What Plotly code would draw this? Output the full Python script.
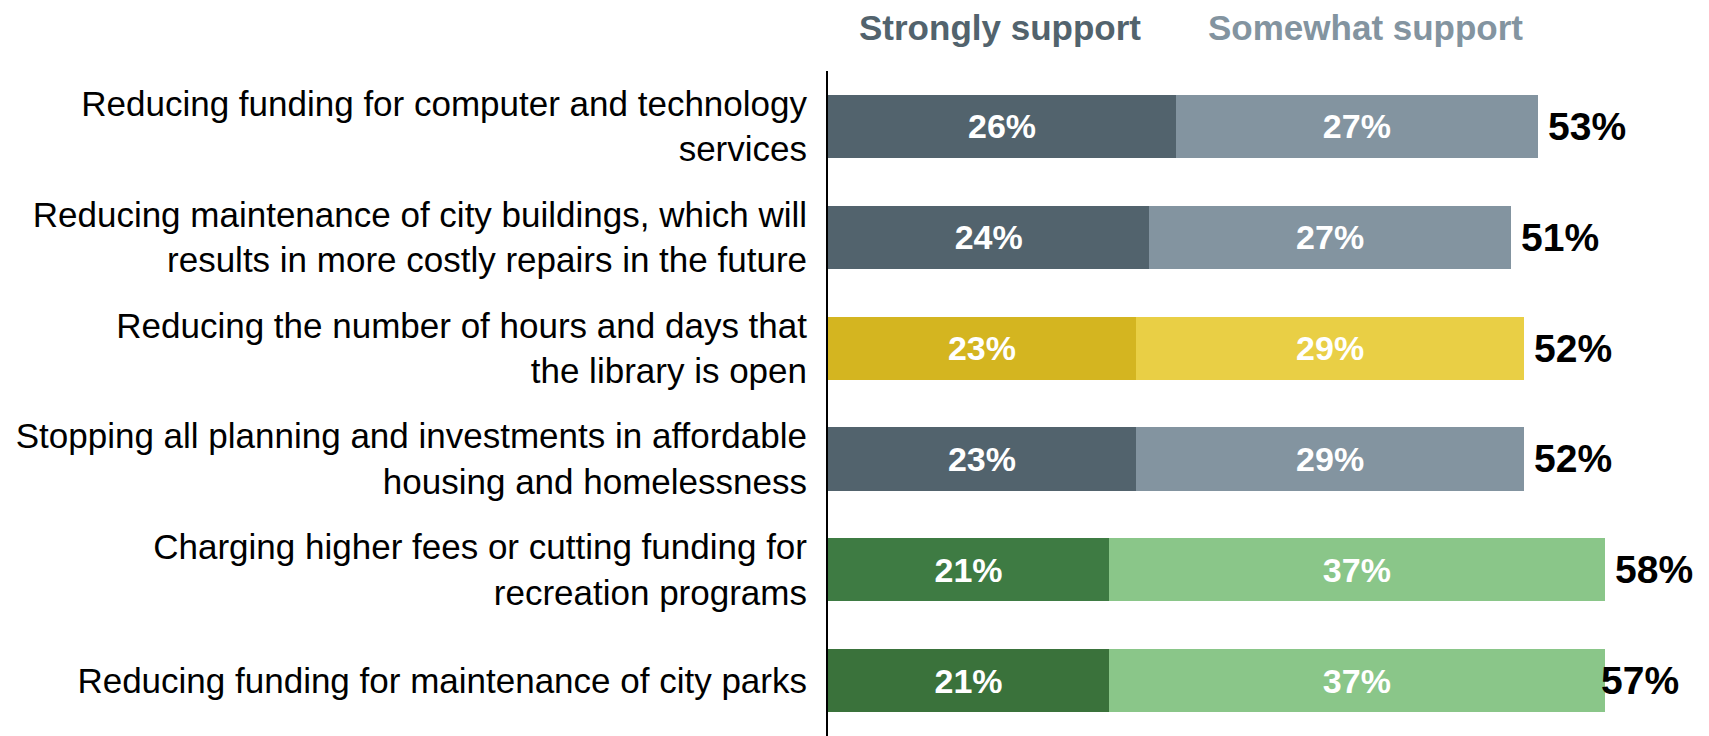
import plotly.graph_objects as go

categories = [
    "Reducing funding for computer and technology<br>services",
    "Reducing maintenance of city buildings, which will<br>results in more costly repairs in the future",
    "Reducing the number of hours and days that<br>the library is open",
    "Stopping all planning and investments in affordable<br>housing and homelessness",
    "Charging higher fees or cutting funding for<br>recreation programs",
    "Reducing funding for maintenance of city parks",
]
strongly = [26, 24, 23, 23, 21, 21]
somewhat = [27, 27, 29, 29, 37, 37]
totals = [53, 51, 52, 52, 58, 57]

dark_colors = ["#52636D", "#52636D", "#D4B520", "#52636D", "#3E7B43", "#3A723B"]
light_colors = ["#8394A0", "#8394A0", "#E9CF45", "#8394A0", "#8AC689", "#8AC689"]

FONT = "Liberation Sans, Arial, sans-serif"

fig = go.Figure()
fig.add_trace(go.Bar(
    y=categories, x=strongly, orientation="h", name="Strongly support",
    marker=dict(color=dark_colors, line=dict(width=0)),
    text=[f"{v}%" for v in strongly], textposition="inside", insidetextanchor="middle",
    textfont=dict(color="white", size=34, family=FONT, weight="bold"),
    width=0.57,
))
fig.add_trace(go.Bar(
    y=categories, x=somewhat, orientation="h", name="Somewhat support",
    marker=dict(color=light_colors, line=dict(width=0)),
    text=[f"{v}%" for v in somewhat], textposition="inside", insidetextanchor="middle",
    textfont=dict(color="white", size=34, family=FONT, weight="bold"),
    width=0.57,
))

for c, t in zip(categories, totals):
    fig.add_annotation(x=t, y=c, text=f"<b>{t}%</b>", showarrow=False,
                       xanchor="left", xshift=8,
                       font=dict(size=39, color="black", family=FONT))

fig.add_annotation(x=0.195, y=1.0, xref="paper", yref="paper", xanchor="center", yanchor="middle",
                   yshift=44, text="<b>Strongly support</b>", showarrow=False,
                   font=dict(size=35, color="#52636D", family=FONT))
fig.add_annotation(x=0.61, y=1.0, xref="paper", yref="paper", xanchor="center", yanchor="middle",
                   yshift=44, text="<b>Somewhat support</b>", showarrow=False,
                   font=dict(size=35, color="#8394A0", family=FONT))

fig.update_layout(
    barmode="stack",
    width=1701, height=728,
    margin=dict(l=820, r=0, t=63, b=0),
    plot_bgcolor="white", paper_bgcolor="white",
    showlegend=False,
    font=dict(family=FONT, color="black"),
    xaxis=dict(range=[0, 65.8], visible=False, fixedrange=True),
    yaxis=dict(autorange=False, range=[5.5, -0.5], showline=True, linecolor="black", linewidth=2,
               ticks="", ticklabelstandoff=12, tickfont=dict(size=35, color="black", family=FONT),
               showgrid=False, automargin=False),
)

fig.write_html("out.html")
